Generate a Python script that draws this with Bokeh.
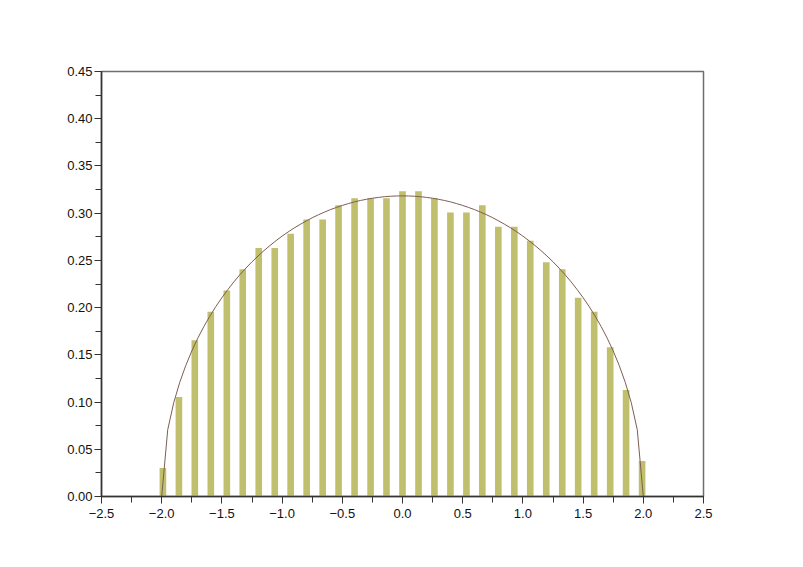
from bokeh.plotting import figure
from bokeh.models import Range1d, SingleIntervalTicker, CustomJSTickFormatter, ColumnDataSource
from bokeh.embed import file_html
from bokeh.resources import INLINE

# Histogram bin centres and normalised heights
bin_centers = [-1.990, -1.857, -1.725, -1.592, -1.459, -1.327, -1.194, -1.061, -0.929, -0.796,
               -0.663, -0.531, -0.398, -0.265, -0.133, 0.000, 0.133, 0.265, 0.398, 0.531,
               0.663, 0.796, 0.929, 1.061, 1.194, 1.327, 1.459, 1.592, 1.725, 1.857, 1.990]
bin_heights = [0.0301, 0.1053, 0.1654, 0.1955, 0.2180, 0.2406, 0.2632, 0.2632, 0.2782, 0.2932,
               0.2932, 0.3083, 0.3158, 0.3158, 0.3158, 0.3233, 0.3233, 0.3158, 0.3008, 0.3008,
               0.3083, 0.2857, 0.2857, 0.2707, 0.2481, 0.2406, 0.2105, 0.1955, 0.1579, 0.1128, 0.0376]

# Density curve
curve_x = [-2.00, -1.95, -1.90, -1.85, -1.80, -1.75, -1.70, -1.65, -1.60, -1.55, -1.50, -1.45,
           -1.40, -1.35, -1.30, -1.25, -1.20, -1.15, -1.10, -1.05, -1.00, -0.95, -0.90, -0.85,
           -0.80, -0.75, -0.70, -0.65, -0.60, -0.55, -0.50, -0.45, -0.40, -0.35, -0.30, -0.25,
           -0.20, -0.15, -0.10, -0.05, 0.00, 0.05, 0.10, 0.15, 0.20, 0.25, 0.30, 0.35, 0.40,
           0.45, 0.50, 0.55, 0.60, 0.65, 0.70, 0.75, 0.80, 0.85, 0.90, 0.95, 1.00, 1.05, 1.10,
           1.15, 1.20, 1.25, 1.30, 1.35, 1.40, 1.45, 1.50, 1.55, 1.60, 1.65, 1.70, 1.75, 1.80,
           1.85, 1.90, 1.95, 2.00]
curve_half = [0.0000, 0.0707, 0.0994, 0.1209, 0.1387, 0.1541, 0.1677, 0.1799, 0.1910, 0.2012,
              0.2105, 0.2192, 0.2273, 0.2349, 0.2419, 0.2485, 0.2546, 0.2604, 0.2658, 0.2709,
              0.2757, 0.2801, 0.2843, 0.2881, 0.2917, 0.2951, 0.2982, 0.3010, 0.3037, 0.3060,
              0.3082, 0.3101, 0.3119, 0.3134, 0.3147, 0.3158, 0.3167, 0.3174, 0.3179, 0.3182,
              0.3183]
curve_y = curve_half + curve_half[-2::-1]

bar_width = 0.055

p = figure(width=795, height=559, output_backend="svg", toolbar_location=None,
           x_range=Range1d(-2.5, 2.5), y_range=Range1d(0, 0.45),
           min_border_left=101, min_border_right=92, min_border_top=71, min_border_bottom=63)
p.background_fill_color = "white"
p.border_fill_color = "white"
p.outline_line_color = "#6e6e6e"
p.outline_line_width = 1.5
p.xgrid.visible = False
p.ygrid.visible = False

src = ColumnDataSource(dict(x=bin_centers, top=bin_heights))
p.vbar(x="x", top="top", width=bar_width, bottom=0, source=src,
       fill_color="#bfbf6e", line_color=None)
p.line(curve_x, curve_y, line_color="#7d5e52", line_width=1)

for ax, interval in ((p.xaxis[0], 0.5), (p.yaxis[0], 0.05)):
    ax.ticker = SingleIntervalTicker(interval=interval, num_minor_ticks=2)
    ax.axis_line_color = "#333333"
    ax.axis_line_width = 1.5
    ax.major_tick_line_color = "#333333"
    ax.minor_tick_line_color = "#333333"
    ax.major_tick_line_width = 1
    ax.minor_tick_line_width = 1
    ax.major_tick_in = 0
    ax.major_tick_out = 7
    ax.minor_tick_in = 0
    ax.minor_tick_out = 6
    ax.major_label_text_font = "Liberation Sans"
    ax.major_label_text_font_size = "13px"
    ax.major_label_text_color = "#111111"

p.xaxis[0].formatter = CustomJSTickFormatter(
    code="return (tick < -1e-9 ? '\u2212' : '') + Math.abs(tick).toFixed(1);")
p.yaxis[0].formatter = CustomJSTickFormatter(
    code="return Math.abs(tick).toFixed(2);")
p.xaxis[0].major_label_standoff = 5
p.yaxis[0].major_label_standoff = 2

open("out.html", "w").write(file_html(p, INLINE))
